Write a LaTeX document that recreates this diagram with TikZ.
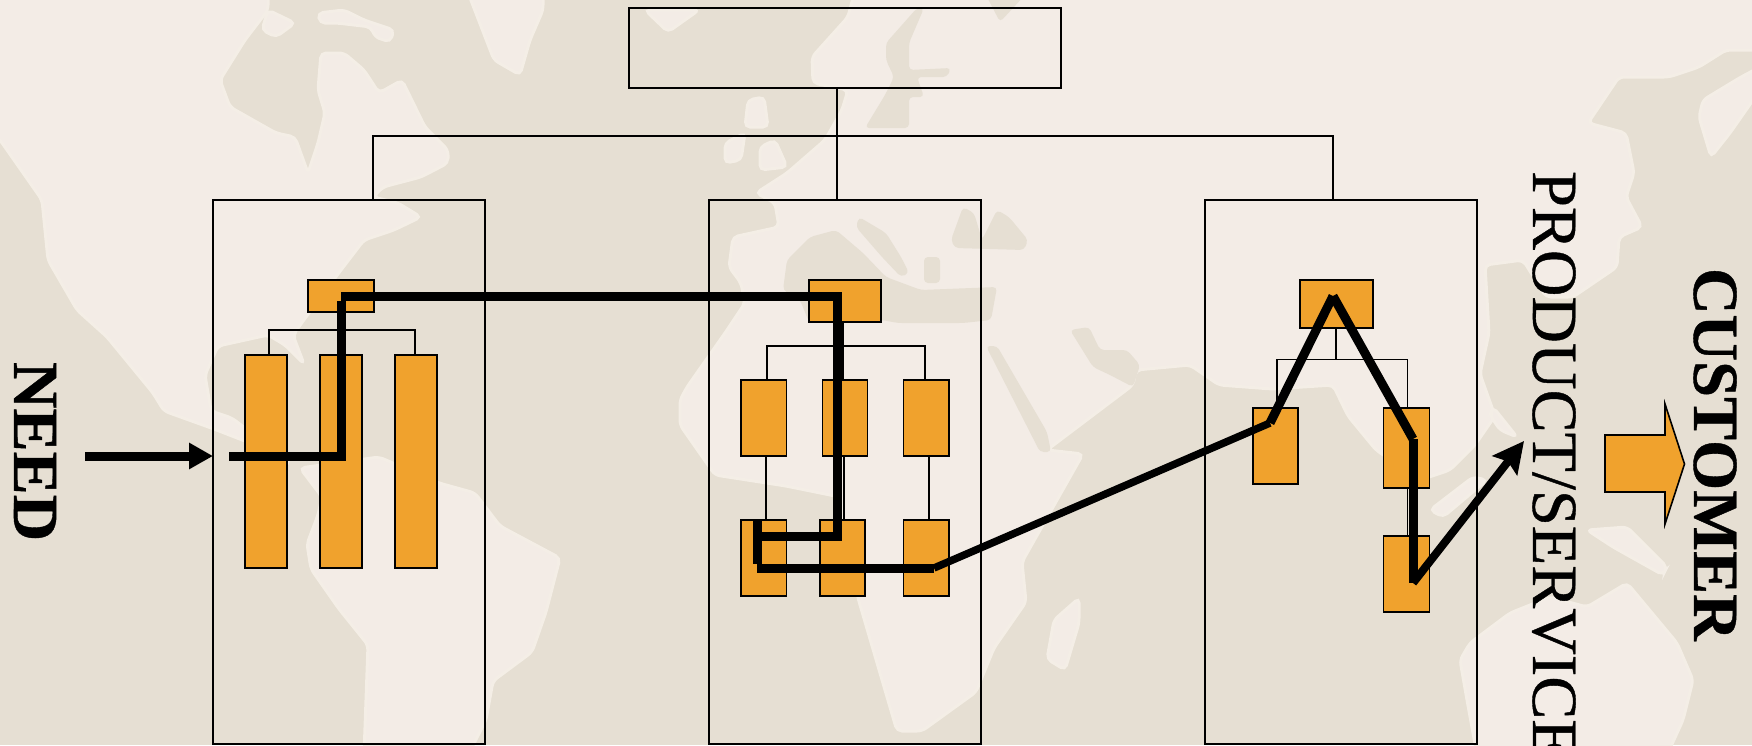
\documentclass[tikz,border=0pt]{standalone}
\usepackage{fontspec}
\setmainfont[Kerning=Off,FakeBold=0.6,BoldFeatures={FakeBold=0.6}]{Liberation Serif}
\usetikzlibrary{arrows.meta,fit}
\definecolor{seaC}{HTML}{E6DFD3}
\definecolor{landC}{HTML}{F3ECE6}
\definecolor{fringeC}{HTML}{F4EEE6}
\definecolor{orangeC}{HTML}{F0A22D}
\tikzset{
  land/.style={fill=landC,draw=fringeC,line width=3pt,rounded corners=5pt},
  sea/.style={fill=seaC,draw=none,rounded corners=4pt},
  groupbox/.style={draw=black,line width=2pt,fill=none,inner sep=0pt,outer sep=0pt},
  unitbox/.style={draw=black,line width=1.6pt,fill=orangeC,inner sep=0pt,outer sep=0pt},
  link/.style={draw=black,line width=1.5pt},
  route/.style={draw=black,line width=9pt,line cap=butt},
  slant/.style={draw=black,line width=7.5pt,line cap=butt},
  bigtext/.style={rotate=-90,anchor=base west,inner sep=0pt,outer sep=0pt,font=\fontsize{64.5}{70}\selectfont}
}
\begin{document}
\begin{tikzpicture}[x=1pt,y=-1pt]
\useasboundingbox (0,0) rectangle (1752,745);
\begin{scope}
\clip (0,0) rectangle (1752,745);
\fill[seaC] (0,0) rectangle (1752,745);
% North America
\path[land] (-10,-10) -- (268,-10) -- (268,10) -- (245,40) -- (220,80) -- (230,107) -- (276,133) -- (295,137) -- (308,173) -- (318,143) -- (325,113) -- (318,90) -- (321,53) -- (344,53) -- (364,70) -- (379,93) -- (402,80) -- (425,127) -- (448,150) -- (448,163) -- (421,177) -- (383,187) -- (373,197) -- (398,203) -- (421,217) -- (394,230) -- (364,240) -- (341,270) -- (306,317) -- (293,335) -- (304,364) -- (285,345) -- (268,335) -- (218,346) -- (205,375) -- (211,411) -- (232,418) -- (250,432) -- (290,455) -- (286,468) -- (250,443) -- (214,429) -- (164,411) -- (153,393) -- (107,337) -- (77,310) -- (48,260) -- (42,200) -- (0,140) -- (-10,130) -- cycle;
% South America
\path[land] (300,468) -- (379,457) -- (439,483) -- (475,493) -- (500,526) -- (560,558) -- (546,612) -- (532,652) -- (493,681) -- (486,720) -- (468,755) -- (364,755) -- (368,645) -- (339,609) -- (311,569) -- (307,544) -- (318,515) -- (322,497) -- cycle;
% Arctic islands, Greenland, Iceland
\path[land] (467,-10) -- (494,60) -- (520,75) -- (530,40) -- (543,10) -- (543,-10) -- cycle;
\path[land] (318,13) -- (344,10) -- (364,20) -- (394,30) -- (390,42) -- (375,37) -- (371,27) -- (337,23) -- (320,23) -- cycle;
\path[land] (268,10) -- (295,23) -- (276,37) -- (262,30) -- cycle;
\path[land] (645,10) -- (699,10) -- (668,32) -- cycle;
% Eurasia and Africa
\path[land] (855,-10) -- (848,17) -- (812,57) -- (813,83) -- (848,90) -- (842,110) -- (825,140) -- (787,173) -- (756,193) -- (775,203) -- (779,227) -- (733,237) -- (729,267) -- (741,283) -- (745,303) -- (725,333) -- (687,387) -- (680,400) -- (680,425) -- (715,475) -- (786,486) -- (840,497) -- (858,598) -- (897,731) -- (922,731) -- (976,692) -- (994,648) -- (1026,602) -- (1022,562) -- (1083,454) -- (1047,450) -- (1133,385) -- (1136,370) -- (1190,365) -- (1219,385) -- (1272,389) -- (1333,385) -- (1348,416) -- (1376,450) -- (1420,480) -- (1450,470) -- (1475,445) -- (1495,416) -- (1480,374) -- (1489,333) -- (1485,265) -- (1523,260) -- (1546,297) -- (1573,297) -- (1617,267) -- (1619,237) -- (1642,227) -- (1626,197) -- (1634,173) -- (1626,133) -- (1588,123) -- (1619,77) -- (1669,77) -- (1699,67) -- (1726,50) -- (1762,50) -- (1762,-10) -- cycle;
% British Isles, Madagascar, Japan
\path[land] (748,100) -- (764,97) -- (768,127) -- (745,127) -- cycle;
\path[land] (725,143) -- (745,133) -- (741,160) -- (725,163) -- cycle;
\path[land] (760,147) -- (775,140) -- (787,167) -- (760,170) -- cycle;
\path[land] (1047,659) -- (1054,620) -- (1079,598) -- (1079,623) -- (1065,670) -- cycle;
\path[land] (1703,100) -- (1741,77) -- (1760,67) -- (1760,90) -- (1730,133) -- (1711,157) -- (1699,117) -- cycle;
% Indonesia, New Guinea, Australia
\path[land] (1430,510) -- (1473,477) -- (1487,480) -- (1443,517) -- cycle;
\path[land] (1493,407) -- (1517,437) -- (1500,430) -- (1490,415) -- cycle;
\path[land] (1587,530) -- (1627,527) -- (1667,567) -- (1663,575) -- (1613,547) -- cycle;
\path[land] (1460,660) -- (1470,643) -- (1510,613) -- (1550,597) -- (1587,607) -- (1627,583) -- (1647,607) -- (1677,643) -- (1693,680) -- (1683,720) -- (1667,755) -- (1477,755) -- (1467,700) -- cycle;
% Inland seas
\path[sea] (917,8) -- (924,8) -- (909,43) -- (909,70) -- (951,68) -- (947,77) -- (917,77) -- (924,97) -- (909,97) -- (909,128) -- (865,128) -- (885,95) -- (894,77) -- (886,60) -- (886,43) -- cycle;
\path[sea] (986,-5) -- (1025,-5) -- (1000,22) -- cycle;
\path[sea] (787,260) -- (810,237) -- (836,230) -- (863,253) -- (886,277) -- (921,290) -- (997,287) -- (991,320) -- (963,323) -- (898,323) -- (882,320) -- (809,322) -- (800,300) -- (783,290) -- cycle;
\path[sea] (859,217) -- (886,233) -- (901,257) -- (909,273) -- (901,277) -- (882,257) -- (856,227) -- cycle;
\path[sea] (924,257) -- (940,257) -- (940,283) -- (924,283) -- cycle;
\path[sea] (951,240) -- (963,207) -- (974,213) -- (982,240) -- (997,210) -- (1009,217) -- (1028,240) -- (1024,250) -- (955,248) -- cycle;
\path[sea] (986,346) -- (997,346) -- (1047,432) -- (1051,452) -- (1040,452) -- cycle;
\path[sea] (1070,330) -- (1089,327) -- (1100,350) -- (1127,350) -- (1140,365) -- (1133,387) -- (1110,375) -- (1093,367) -- cycle;
\end{scope}
% Group boxes
\node[groupbox,fit={(629,8)(1061,88)}] (ceo) {};
\node[groupbox,fit={(213,200)(485,744)}] (groupA) {};
\node[groupbox,fit={(709,200)(981,744)}] (groupB) {};
\node[groupbox,fit={(1205,200)(1477,744)}] (groupC) {};
% Top tree
\coordinate (hubB) at (837,136);
\coordinate (hubA) at (373,136);
\coordinate (hubC) at (1333,136);
\draw[link] (hubB |- ceo.south) -- (hubB);
\draw[link] (hubA |- groupA.north) -- (hubA) -- (hubC) -- (hubC |- groupC.north);
\draw[link] (hubB) -- (hubB |- groupB.north);
% Group A links
\coordinate (treeAl) at (269,330);
\coordinate (treeAr) at (415,330);
\draw[link] (treeAl |- 0,355) -- (treeAl) -- (treeAr) -- (treeAr |- 0,355);
% Group B links
\coordinate (treeBl) at (767,346);
\coordinate (treeBm) at (843,346);
\coordinate (treeBr) at (925,346);
\draw[link] (treeBm |- 0,322) -- (treeBm |- 0,380);
\draw[link] (treeBl |- 0,380) -- (treeBl) -- (treeBr) -- (treeBr |- 0,380);
\coordinate (colB1) at (766,456);
\coordinate (colB2) at (844,456);
\coordinate (colB3) at (929,456);
\draw[link] (colB1) -- (colB1 |- 0,520);
\draw[link] (colB2) -- (colB2 |- 0,520);
\draw[link] (colB3) -- (colB3 |- 0,520);
% Group C links
\coordinate (treeCl) at (1277,359.5);
\coordinate (treeCm) at (1336,359.5);
\coordinate (treeCr) at (1407.5,359.5);
\draw[link] (treeCm |- 0,328) -- (treeCm);
\draw[link] (treeCl |- 0,408) -- (treeCl) -- (treeCr) -- (treeCr |- 0,408);
\draw[link] (treeCr |- 0,488) -- (treeCr |- 0,536);
% Units
\node[unitbox,fit={(308,280)(374,312)}] (a0) {};
\node[unitbox,fit={(245,355)(287,568)}] (a1) {};
\node[unitbox,fit={(320,355)(362,568)}] (a2) {};
\node[unitbox,fit={(395,355)(437,568)}] (a3) {};
\node[unitbox,fit={(809,280)(881,322)}] (b0) {};
\node[unitbox,fit={(741,380)(786.5,456)}] (b1) {};
\node[unitbox,fit={(822.5,380)(867.5,456)}] (b2) {};
\node[unitbox,fit={(903.5,380)(949,456)}] (b3) {};
\node[unitbox,fit={(741,520)(786.5,596)}] (b4) {};
\node[unitbox,fit={(820,520)(865,596)}] (b5) {};
\node[unitbox,fit={(903.5,520)(949,596)}] (b6) {};
\node[unitbox,fit={(1300,280)(1373,328)}] (c0) {};
\node[unitbox,fit={(1253,408)(1298,484)}] (c1) {};
\node[unitbox,fit={(1383.5,408)(1429.5,488)}] (c2) {};
\node[unitbox,fit={(1383.5,536)(1429.5,612)}] (c3) {};
% Route points
\coordinate (needEnd) at (85,456);
\coordinate (r0) at (229,456);
\coordinate (r1) at (341,456);
\coordinate (r2) at (341,296);
\coordinate (r3) at (837,296);
\coordinate (r4) at (837,536);
\coordinate (r5) at (757,536);
\coordinate (r6) at (757,520);
\coordinate (r7) at (757,568);
\coordinate (r8) at (934,568);
\coordinate (r9) at (1270,423);
\coordinate (r10) at (1333,296);
\coordinate (r11) at (1413,439);
\coordinate (r12) at (1413,583);
\coordinate (r13) at (1524,441);
% Route
\draw[route,-{Triangle[length=24pt,width=25pt]}] (needEnd) -- (groupA.west |- needEnd);
\draw[route] (r0) -- ([xshift=4.5pt]r1);
\draw[route] (r1) -- ([yshift=-4.5pt]r2);
\draw[route] (r2) -- ([xshift=4.5pt]r3);
\draw[route] (r3) -- (r4);
\draw[route] ([xshift=4.5pt]r4) -- (r5);
\draw[route] (r6) -- ([yshift=4.5pt]r7);
\draw[route] (r7) -- (r8);
\draw[slant] (r8) -- (r9);
\draw[route] (r9) -- (r10);
\draw[route] (r10) -- (r11);
\draw[route] (r11) -- (r12);
\draw[route,line width=8pt,-{Stealth[length=31pt,width=31pt,inset=5pt]}] (r12) -- (r13);
% Block arrow
\draw[fill=orangeC,draw=black,line width=1.6pt,line join=miter] (1605,435) -- (1665,435) -- (1665,404) -- (1684.5,464) -- (1665,524) -- (1665,492) -- (1605,492) -- cycle;
% Labels
\node[bigtext,font=\fontsize{64.5}{70}\selectfont\bfseries] (need) at (14,362) {NEED};
\node[bigtext] (product) at (1533,171) {PRODUCT/SERVICE};
\node[bigtext,font=\fontsize{64.5}{70}\selectfont\bfseries] (customer) at (1694,268) {CUSTOMER};
\end{tikzpicture}
\end{document}
